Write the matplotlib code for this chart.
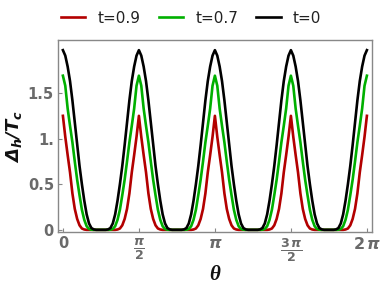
import numpy as np
import matplotlib
matplotlib.use("Agg")
import matplotlib.pyplot as plt

# quarter period (0 .. pi/4), step pi/64; curves are symmetric and repeat every pi/2
theta_quarter = np.arange(17) * np.pi / 64
gap_t09 = [1.25, 1.02, 0.82, 0.63, 0.40, 0.23, 0.12, 0.05, 0.015, 0.004, 0, 0, 0, 0, 0, 0, 0]
gap_t07 = [1.69, 1.58, 1.33, 1.14, 0.96, 0.75, 0.55, 0.38, 0.22, 0.11, 0.04, 0.01, 0.002, 0, 0, 0, 0]
gap_t0 = [1.97, 1.91, 1.79, 1.63, 1.42, 1.18, 0.93, 0.70, 0.50, 0.32, 0.17, 0.07, 0.02, 0.005, 0, 0, 0]
n_periods = 4

labels = ["t=0.9", "t=0.7", "t=0"]
colors = ["#b30000", "#00b000", "#000000"]
xtick_vals = [0, np.pi / 2, np.pi, 3 * np.pi / 2, 2 * np.pi]
xtick_labels = ["0", r"$\frac{\mathbfit{\pi}}{\mathbf{2}}$", r"$\mathbfit{\pi}$",
                r"$\frac{\mathbf{3}\,\mathbfit{\pi}}{\mathbf{2}}$", r"$\mathbf{2}\,\mathbfit{\pi}$"]
ytick_vals = [0, 0.5, 1, 1.5]
ytick_labels = ["0", "0.5", "1.", "1.5"]


def full_curve(quarter_vals):
    q = np.asarray(quarter_vals, dtype=float)
    period_y = np.concatenate([q, q[-2::-1]])
    period_x = np.concatenate([theta_quarter, np.pi / 2 - theta_quarter[-2::-1]])
    xs = [period_x] + [period_x[1:] + k * np.pi / 2 for k in range(1, n_periods)]
    ys = [period_y] + [period_y[1:]] * (n_periods - 1)
    return np.concatenate(xs), np.concatenate(ys)


plt.rcParams['mathtext.fontset'] = 'dejavusans'
fig = plt.figure(figsize=(3.82, 2.95), dpi=100)
ax = fig.add_axes([0.152, 0.214, 0.822, 0.650])

for vals, lab, c in zip([gap_t09, gap_t07, gap_t0], labels, colors):
    x, y = full_curve(vals)
    ax.plot(x, y, color=c, lw=1.9, label=lab, solid_joinstyle='round')

ax.set_xlim(-0.10, 6.39)
ax.set_ylim(-0.022, 2.08)

gray = "#6a6a6a"
for s in ax.spines.values():
    s.set_color("#888888")
    s.set_linewidth(1.0)

ax.set_xticks(xtick_vals)
ax.set_xticklabels(xtick_labels)
ax.set_yticks(ytick_vals)
ax.set_yticklabels(ytick_labels)
ax.tick_params(direction='in', length=3, width=0.8, color="#888888",
               labelcolor=gray, labelsize=10.5, pad=3)
for t in ax.get_xticklabels() + ax.get_yticklabels():
    t.set_fontweight('bold')
xl = ax.get_xticklabels()
for i in (1, 3):
    xl[i].set_fontsize(13)
for i in (2, 4):
    xl[i].set_fontsize(11.5)

ax.set_ylabel(r"$\mathbfit{\Delta_h/T_c}$", fontsize=13, color="#111111", labelpad=3)
ax.set_xlabel("θ", fontsize=15, family="Liberation Serif", fontweight='bold',
              fontstyle='italic', color="#111111", labelpad=1)

fig.legend(loc='upper center', bbox_to_anchor=(0.50, 1.01), ncol=3, frameon=False,
           fontsize=11, handlelength=1.6, handletextpad=0.8, columnspacing=1.2,
           labelcolor="#222222")

fig.savefig("out.png", dpi=100)
